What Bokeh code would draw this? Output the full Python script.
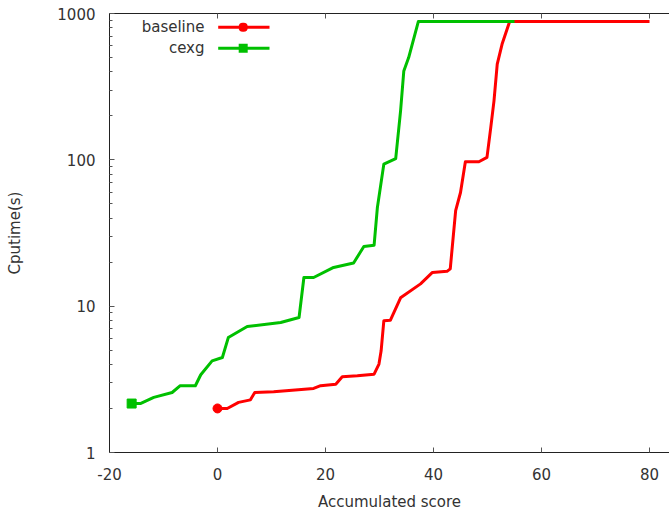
from bokeh.plotting import figure
from bokeh.models import (Range1d, FixedTicker, LinearAxis, Label, BoxAnnotation,
                          BasicTickFormatter, CustomJSTickFormatter)
from bokeh.embed import file_html
from bokeh.resources import INLINE

# ---------------- data ----------------
series_names = ["baseline", "cexg"]

baseline_x = [0, 1.8, 3.9, 6.1, 6.9, 10.4, 17.8, 19.1, 21.9, 23.1, 25.9, 29.0,
              29.9, 30.3, 30.8, 32.0, 33.9, 37.6, 39.8, 42.5, 43.1, 44.1, 45.0,
              45.9, 48.4, 49.9, 50.6, 51.2, 51.8, 52.7, 54.1, 80]
baseline_y = [2.0, 2.0, 2.2, 2.29, 2.57, 2.6, 2.74, 2.86, 2.93, 3.29, 3.34, 3.43,
              4.02, 4.95, 7.94, 8.0, 11.4, 14.2, 17.0, 17.3, 18.0, 44.9, 59.8,
              97, 97, 104, 166, 253, 451, 618, 882, 882]

cexg_x = [-15.9, -14.3, -11.8, -8.4, -6.9, -4.1, -3.1, -1.0, 0.9, 2.0, 5.5, 11.7,
          15.1, 16.0, 17.8, 21.5, 25.2, 27.1, 29.0, 29.6, 30.8, 33.0, 33.9, 34.5,
          35.4, 37.2, 55.0]
cexg_y = [2.16, 2.16, 2.38, 2.57, 2.86, 2.86, 3.4, 4.23, 4.46, 6.1, 7.26, 7.73,
          8.37, 15.7, 15.7, 18.4, 19.7, 25.6, 26.1, 47, 93.5, 102, 216, 405,
          500, 882, 882]

x_ticks = [-20, 0, 20, 40, 60, 80]
x_tick_labels = ["-20", "0", "20", "40", "60", "80"]
y_ticks = [1, 10, 100, 1000]
y_tick_labels = ["1", "10", "100", "1000"]
y_minor_ticks = [m * d for d in (1, 10, 100) for m in range(2, 10)]

x_label = "Accumulated score"
y_label = "Cputime(s)"

# ---------------- style ----------------
FONT = "DejaVu Sans"
FS = "15px"
TXT = "#333333"
RED = "#ff0000"
GREEN = "#00c000"
series_colors = [RED, GREEN]
series_marker_radius = [4, 0]   # round for baseline, square for cexg

p = figure(width=669, height=514, output_backend="svg", toolbar_location=None,
           x_range=Range1d(-20, 83.7), y_range=Range1d(1, 1000),
           y_axis_type="log",
           min_border_left=109, min_border_right=0,
           min_border_top=13, min_border_bottom=62)
p.outline_line_color = None
p.grid.visible = False
p.background_fill_color = "white"
p.border_fill_color = "white"

# bottom axis
xa = p.xaxis[0]
xa.ticker = FixedTicker(ticks=x_ticks)
xa.major_label_overrides = {t: s for t, s in zip(x_ticks, x_tick_labels)}
xa.axis_label = x_label
xa.axis_label_text_font = FONT
xa.axis_label_text_font_size = FS
xa.axis_label_text_font_style = "normal"
xa.axis_label_text_color = TXT
xa.axis_label_standoff = 10
xa.major_label_text_font = FONT
xa.major_label_text_font_size = FS
xa.major_label_text_color = TXT
xa.major_label_standoff = 15
xa.major_tick_in = 5
xa.major_tick_out = 0
xa.minor_tick_in = 0
xa.minor_tick_out = 0
xa.axis_line_color = "#222222"
xa.major_tick_line_color = "#555555"

# left axis
ya = p.yaxis[0]
ya.ticker = FixedTicker(ticks=y_ticks, minor_ticks=y_minor_ticks)
ya.formatter = BasicTickFormatter()
ya.major_label_overrides = {t: s for t, s in zip(y_ticks, y_tick_labels)}
ya.axis_label = y_label
ya.axis_label_text_font = FONT
ya.axis_label_text_font_size = FS
ya.axis_label_text_font_style = "normal"
ya.axis_label_text_color = TXT
ya.axis_label_standoff = 30
ya.major_label_text_font = FONT
ya.major_label_text_font_size = FS
ya.major_label_text_color = TXT
ya.major_label_standoff = 14
ya.major_tick_in = 5
ya.major_tick_out = 0
ya.minor_tick_in = 3
ya.minor_tick_out = 0
ya.axis_line_color = "#222222"
ya.major_tick_line_color = "#555555"
ya.minor_tick_line_color = "#555555"

# top mirror axis (ticks only, no labels)
top = LinearAxis(ticker=FixedTicker(ticks=x_ticks),
                 formatter=CustomJSTickFormatter(code="return ''"))
top.major_label_standoff = 0
top.major_tick_in = 5
top.major_tick_out = 0
top.minor_tick_in = 0
top.minor_tick_out = 0
top.axis_line_color = "#222222"
top.major_tick_line_color = "#555555"
p.add_layout(top, "above")

# ---------------- series ----------------
p.line(baseline_x, baseline_y, line_color=RED, line_width=3, line_join="round")
p.line(cexg_x, cexg_y, line_color=GREEN, line_width=3, line_join="round")
p.scatter([baseline_x[0]], [baseline_y[0]], marker="circle", size=9,
          fill_color=RED, line_color=RED)
p.scatter([cexg_x[0]], [cexg_y[0]], marker="square", size=9,
          fill_color=GREEN, line_color=GREEN)

# ---------------- legend (gnuplot style: label left, sample right) ----------------
ROW0 = 425.3      # first row centre, px above the frame bottom
ROW_STEP = 21
for i, (name, col, rad) in enumerate(zip(series_names, series_colors,
                                         series_marker_radius)):
    yc = ROW0 - ROW_STEP * i
    p.add_layout(Label(x=95, y=yc, x_units="screen", y_units="screen",
                       text=name, text_align="right", text_baseline="middle",
                       text_font=FONT, text_font_size=FS, text_color=TXT))
    # sample line
    p.add_layout(BoxAnnotation(left=108.7, right=160, bottom=yc - 1.5, top=yc + 1.5,
                               left_units="screen", right_units="screen",
                               bottom_units="screen", top_units="screen",
                               fill_color=col, fill_alpha=1, line_color=None))
    # sample marker
    p.add_layout(BoxAnnotation(left=129.2, right=138.2, bottom=yc - 4.5, top=yc + 4.5,
                               left_units="screen", right_units="screen",
                               bottom_units="screen", top_units="screen",
                               border_radius=rad,
                               fill_color=col, fill_alpha=1, line_color=None))

open("out.html", "w").write(file_html(p, INLINE))
